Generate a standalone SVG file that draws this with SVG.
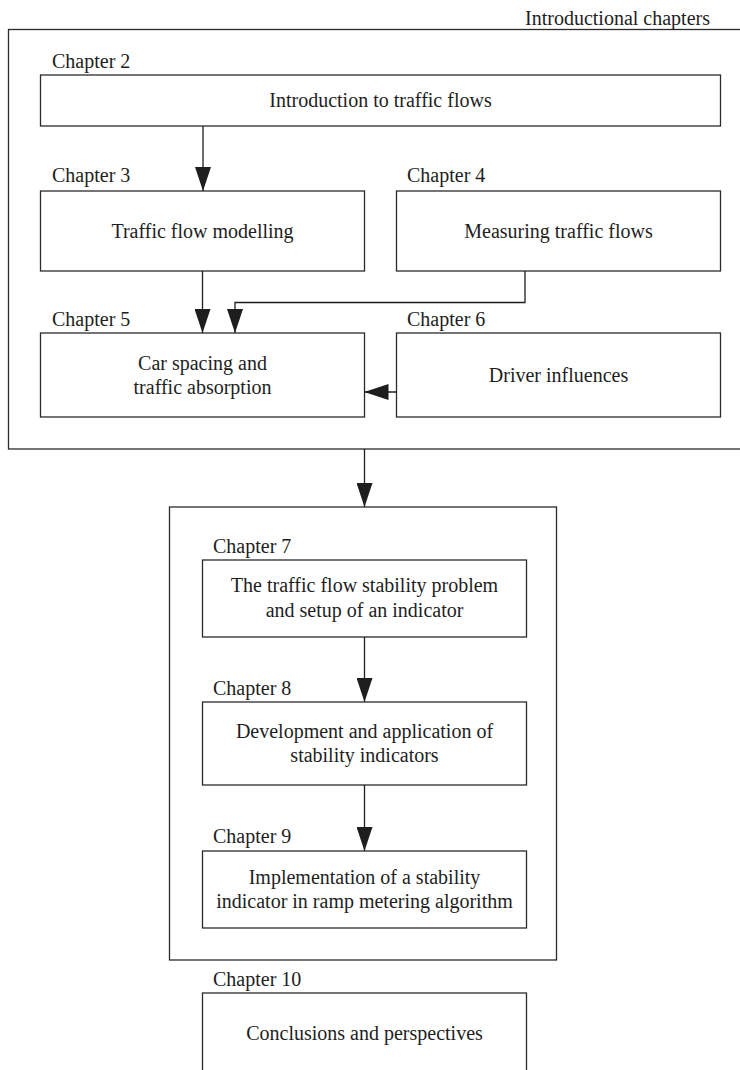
<svg xmlns="http://www.w3.org/2000/svg" width="740" height="1070" viewBox="0 0 740 1070">
<style>
.box{fill:#fff;stroke:#2b2b2b;stroke-width:1.3}
.frame{fill:none;stroke:#2b2b2b;stroke-width:1.3}
.t{font-family:"Liberation Serif","Times New Roman",serif;font-size:20px;fill:#1e1e1e}
.c{text-anchor:middle}
.conn{fill:none;stroke:#1e1e1e;stroke-width:1.3}
</style>
<defs>
<marker id="ah" viewBox="0 0 24 16" markerWidth="24" markerHeight="16" refX="24" refY="8" orient="auto" markerUnits="userSpaceOnUse">
<path d="M0,0 L24,8 L0,16 z" fill="#1e1e1e"/>
</marker>
</defs>
<rect width="740" height="1070" fill="#fff"/>

<g id="intro-group">
<rect class="frame" x="8.5" y="29.5" width="740" height="419.5"/>
<text class="t" x="710" y="25" text-anchor="end">Introductional chapters</text>
</g>

<g id="ch2">
<text class="t" x="52" y="68">Chapter 2</text>
<rect class="box" x="40.5" y="75" width="680" height="51"/>
<text class="t c" x="380.5" y="107">Introduction to traffic flows</text>
</g>

<g id="ch3">
<text class="t" x="52" y="182">Chapter 3</text>
<rect class="box" x="40.5" y="191" width="324" height="80"/>
<text class="t c" x="202.5" y="238">Traffic flow modelling</text>
</g>

<g id="ch4">
<text class="t" x="407" y="182">Chapter 4</text>
<rect class="box" x="396.5" y="191" width="324" height="80"/>
<text class="t c" x="558.5" y="238">Measuring traffic flows</text>
</g>

<g id="ch5">
<text class="t" x="52" y="326">Chapter 5</text>
<rect class="box" x="40.5" y="333" width="324" height="84"/>
<text class="t c" x="202.5" y="370">Car spacing and</text>
<text class="t c" x="202.5" y="394">traffic absorption</text>
</g>

<g id="ch6">
<text class="t" x="407" y="326">Chapter 6</text>
<rect class="box" x="396.5" y="333" width="324" height="84"/>
<text class="t c" x="558.5" y="382">Driver influences</text>
</g>

<g id="inner-group">
<rect class="frame" x="169.5" y="507" width="387" height="453"/>
</g>

<g id="ch7">
<text class="t" x="213" y="553">Chapter 7</text>
<rect class="box" x="202.5" y="560" width="324" height="77"/>
<text class="t c" x="364.5" y="592">The traffic flow stability problem</text>
<text class="t c" x="364.5" y="617">and setup of an indicator</text>
</g>

<g id="ch8">
<text class="t" x="213" y="695">Chapter 8</text>
<rect class="box" x="202.5" y="702" width="324" height="83"/>
<text class="t c" x="364.5" y="738">Development and application of</text>
<text class="t c" x="364.5" y="762">stability indicators</text>
</g>

<g id="ch9">
<text class="t" x="213" y="843">Chapter 9</text>
<rect class="box" x="202.5" y="851" width="324" height="77"/>
<text class="t c" x="364.5" y="884">Implementation of a stability</text>
<text class="t c" x="364.5" y="908">indicator in ramp metering algorithm</text>
</g>

<g id="ch10">
<text class="t" x="213" y="986">Chapter 10</text>
<rect class="box" x="202.5" y="993" width="324" height="90"/>
<text class="t c" x="364.5" y="1040">Conclusions and perspectives</text>
</g>

<g id="connectors">
<path class="conn" d="M203,126 V191" marker-end="url(#ah)"/>
<path class="conn" d="M202.5,271 V333" marker-end="url(#ah)"/>
<path class="conn" d="M525,271 V302.5 H235 V333" marker-end="url(#ah)"/>
<path class="conn" d="M396.5,392 H364.5" marker-end="url(#ah)"/>
<path class="conn" d="M364.5,449 V507" marker-end="url(#ah)"/>
<path class="conn" d="M364.5,637 V702" marker-end="url(#ah)"/>
<path class="conn" d="M364.5,785 V851" marker-end="url(#ah)"/>
</g>
</svg>
